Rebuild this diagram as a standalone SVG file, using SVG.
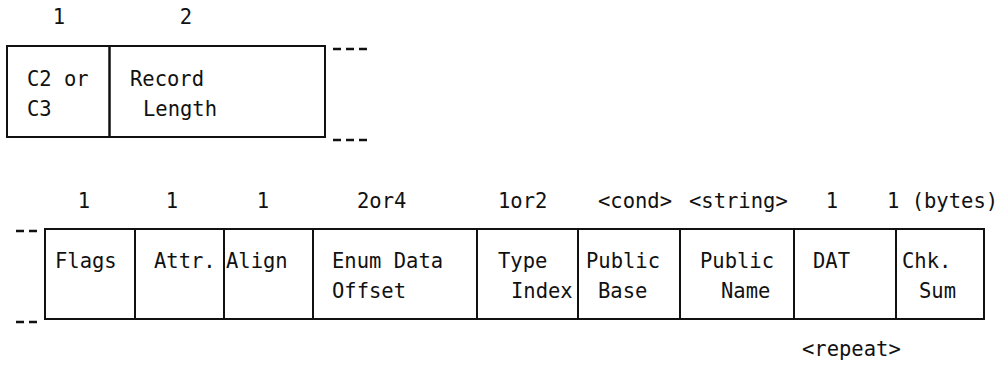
<svg xmlns="http://www.w3.org/2000/svg" width="1002" height="365" viewBox="0 0 1002 365">
<style>
text{font-family:"DejaVu Sans Mono","Liberation Mono",monospace;font-size:20.5px;fill:#111}
.m{text-anchor:middle}
.box{fill:none;stroke:#111;stroke-width:2}
.div{stroke:#111;stroke-width:2}
.dash{stroke:#111;stroke-width:2.5;stroke-dasharray:8 5}
</style>
<rect width="1002" height="365" fill="#fff"/>
<g id="sizes-top">
<text class="m" x="59" y="24">1</text>
<text class="m" x="186" y="24">2</text>
</g>
<g id="field-type">
<rect class="box" x="7" y="46" width="102.5" height="91"/>
<text x="27" y="86">C2 or</text>
<text x="27" y="116">C3</text>
</g>
<g id="field-length">
<rect class="box" x="109.5" y="46" width="215.5" height="91"/>
<text x="130" y="86">Record</text>
<text x="143" y="116">Length</text>
</g>
<g id="sizes-bottom">
<text class="m" x="84" y="208">1</text>
<text class="m" x="172" y="208">1</text>
<text class="m" x="263" y="208">1</text>
<text x="357" y="208">2or4</text>
<text x="498" y="208">1or2</text>
<text x="598" y="208">&lt;cond&gt;</text>
<text x="689" y="208">&lt;string&gt;</text>
<text class="m" x="832" y="208">1</text>
<text x="887" y="208">1 (bytes)</text>
</g>
<g id="field-flags">
<rect class="box" x="45" y="229" width="90" height="90"/>
<text x="55" y="268">Flags</text>
</g>
<g id="field-attr">
<rect class="box" x="135" y="229" width="89" height="90"/>
<text x="154" y="268">Attr.</text>
</g>
<g id="field-align">
<rect class="box" x="224" y="229" width="89" height="90"/>
<text x="226" y="268">Align</text>
</g>
<g id="field-enum">
<rect class="box" x="313" y="229" width="164" height="90"/>
<text x="332" y="268">Enum Data</text>
<text x="332" y="298">Offset</text>
</g>
<g id="field-typeindex">
<rect class="box" x="477" y="229" width="101" height="90"/>
<text x="498" y="268">Type</text>
<text x="511" y="298">Index</text>
</g>
<g id="field-pubbase">
<rect class="box" x="578" y="229" width="102" height="90"/>
<text x="586" y="268">Public</text>
<text x="598" y="298">Base</text>
</g>
<g id="field-pubname">
<rect class="box" x="680" y="229" width="114" height="90"/>
<text x="700" y="268">Public</text>
<text x="721" y="298">Name</text>
</g>
<g id="field-dat">
<rect class="box" x="794" y="229" width="102" height="90"/>
<text x="813" y="268">DAT</text>
</g>
<g id="field-chksum">
<rect class="box" x="896" y="229" width="88" height="90"/>
<text x="902" y="268">Chk.</text>
<text x="919" y="298">Sum</text>
</g>
<g id="connectors">
<line class="dash" x1="333" y1="49" x2="369" y2="49"/>
<line class="dash" x1="333" y1="140" x2="369" y2="140"/>
<line class="dash" x1="16" y1="231" x2="39" y2="231"/>
<line class="dash" x1="16" y1="322" x2="39" y2="322"/>
</g>
<text x="802" y="356">&lt;repeat&gt;</text>
</svg>
